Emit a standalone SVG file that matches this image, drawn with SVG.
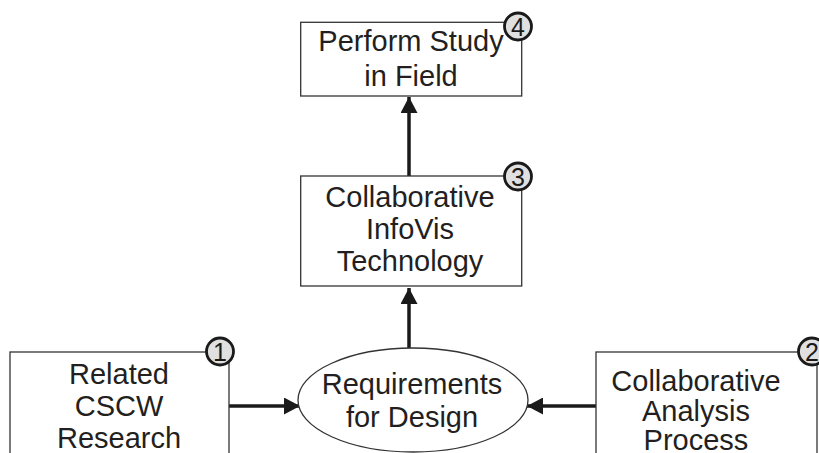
<svg xmlns="http://www.w3.org/2000/svg" width="819" height="453" viewBox="0 0 819 453">
  <style>
    .box { fill: #ffffff; stroke: #333333; stroke-width: 1.3; }
    .lbl { font-family: "Liberation Sans", Arial, sans-serif; font-size: 29px; fill: #231f20; text-anchor: middle; }
    .badge { fill: #e0e0e0; stroke: #1a1a1a; stroke-width: 2.8; }
    .num { font-family: "Liberation Sans", Arial, sans-serif; font-size: 25px; fill: #1a1a1a; text-anchor: middle; }
    .link { stroke: #1a1a1a; stroke-width: 3.5; fill: none; }
  </style>
  <defs>
    <marker id="head" viewBox="0 0 16 17" refX="16" refY="8.5" markerWidth="16" markerHeight="17" markerUnits="userSpaceOnUse" orient="auto">
      <path d="M0,0 L16,8.5 L0,17 Z" fill="#1a1a1a"/>
    </marker>
  </defs>
  <rect width="819" height="453" fill="#ffffff"/>

  <!-- connectors -->
  <g id="connectors">
    <line class="link" x1="409" y1="176" x2="409" y2="97" marker-end="url(#head)"/>
    <line class="link" x1="409" y1="348" x2="409" y2="288" marker-end="url(#head)"/>
    <line class="link" x1="229" y1="406" x2="300" y2="406" marker-end="url(#head)"/>
    <line class="link" x1="596" y1="406" x2="527" y2="406" marker-end="url(#head)"/>
  </g>

  <!-- 4: field study -->
  <g id="node-field-study">
    <rect class="box" x="300.7" y="22.3" width="221" height="73.7"/>
    <text class="lbl" x="411" y="51">Perform Study</text>
    <text class="lbl" x="411" y="86">in Field</text>
    <circle class="badge" cx="518" cy="26.5" r="13.5"/>
    <text class="num" x="518" y="35.5">4</text>
  </g>

  <!-- 3: technology -->
  <g id="node-technology">
    <rect class="box" x="300.7" y="176" width="221" height="110"/>
    <text class="lbl" x="410" y="207">Collaborative</text>
    <text class="lbl" x="410" y="239">InfoVis</text>
    <text class="lbl" x="410" y="271">Technology</text>
    <circle class="badge" cx="518" cy="176.5" r="13.5"/>
    <text class="num" x="518" y="185.5">3</text>
  </g>

  <!-- 1: related research -->
  <g id="node-cscw">
    <rect class="box" x="10" y="352" width="219" height="120"/>
    <text class="lbl" x="119" y="384">Related</text>
    <text class="lbl" x="119" y="416">CSCW</text>
    <text class="lbl" x="119" y="448">Research</text>
    <circle class="badge" cx="220" cy="351.5" r="13.5"/>
    <text class="num" x="220" y="360.5">1</text>
  </g>

  <!-- requirements -->
  <g id="node-requirements">
    <ellipse class="box" cx="413" cy="400" rx="115" ry="52"/>
    <text class="lbl" x="412" y="394">Requirements</text>
    <text class="lbl" x="412" y="427">for Design</text>
  </g>

  <!-- 2: analysis process -->
  <g id="node-analysis">
    <rect class="box" x="596" y="352" width="221" height="120"/>
    <text class="lbl" x="696" y="391">Collaborative</text>
    <text class="lbl" x="696" y="421">Analysis</text>
    <text class="lbl" x="696" y="450">Process</text>
    <circle class="badge" cx="812" cy="351.5" r="13.5"/>
    <text class="num" x="812" y="360.5">2</text>
  </g>
</svg>
